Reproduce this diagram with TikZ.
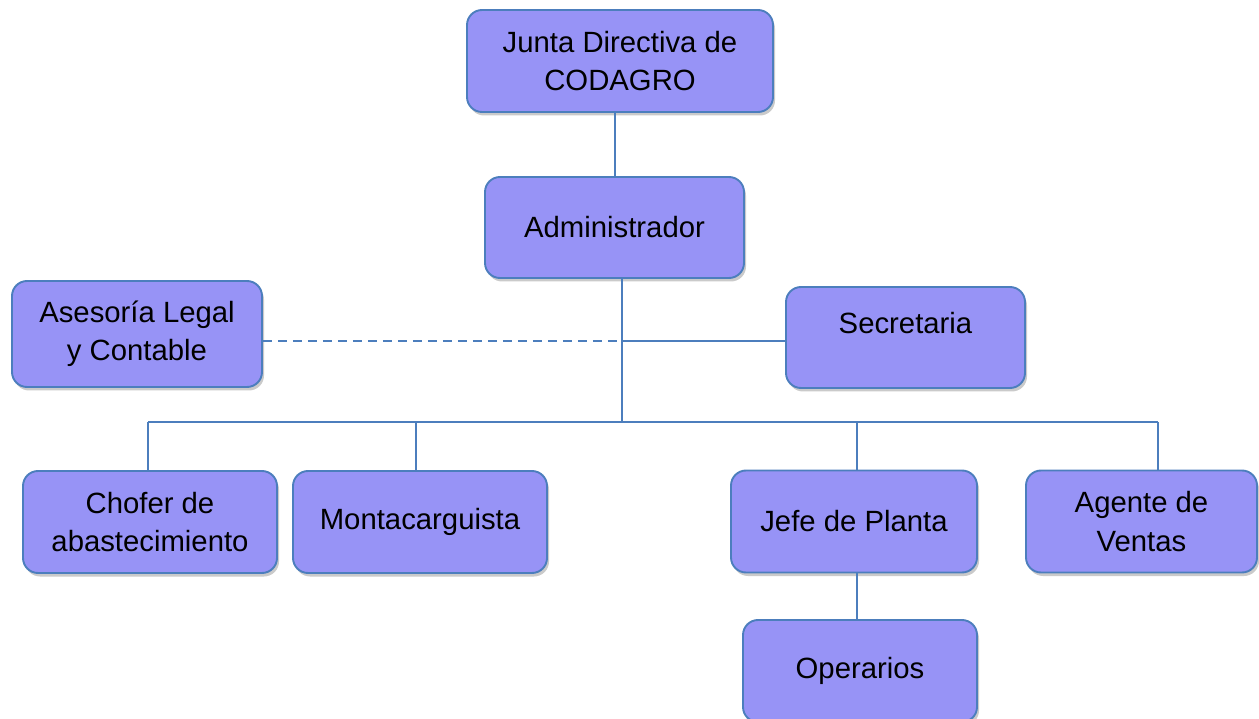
\documentclass[tikz,border=0pt]{standalone}
\usepackage{fontspec}
\setmainfont{Liberation Sans}
\usetikzlibrary{shadows}
\definecolor{boxfill}{HTML}{9793F6}
\definecolor{boxline}{HTML}{4C7EBD}
\tikzset{
  orgbox/.style={draw=boxline, line width=1.9pt, fill=boxfill, rounded corners=15pt,
    align=center, inner sep=0pt, font=\fontsize{29.3}{38.5}\selectfont,
    drop shadow={shadow xshift=2pt, shadow yshift=-3.5pt, opacity=0.35, fill=black!60}},
  link/.style={draw=boxline, line width=2pt},
  dlink/.style={link, dash pattern=on 9pt off 6pt}
}
\begin{document}
\begin{tikzpicture}[x=1pt,y=-1pt]
\useasboundingbox (0,0) rectangle (1259,719);
\node[orgbox, minimum width=306pt, minimum height=102pt] (junta) at (620,61) {Junta Directiva de\\CODAGRO};
\node[orgbox, minimum width=259pt, minimum height=101pt] (admin) at (614.5,227.5) {Administrador};
\node[orgbox, minimum width=250pt, minimum height=106pt] (asesoria) at (137,334) {Asesoría Legal\\y Contable};
\node[orgbox, minimum width=239pt, minimum height=101pt] (secretaria) at (905.5,337.5) {Secretaria\\[-10pt]\phantom{S}};
\node[orgbox, minimum width=254pt, minimum height=102pt] (chofer) at (150,522) {Chofer de\\abastecimiento};
\node[orgbox, minimum width=254pt, minimum height=102pt] (monta) at (420,522) {Montacarguista};
\node[orgbox, minimum width=246pt, minimum height=102pt] (jefe) at (854,521.5) {Jefe de Planta};
\node[orgbox, minimum width=231pt, minimum height=102pt] (agente) at (1141.5,521.5) {Agente de\\Ventas};
\node[orgbox, minimum width=234pt, minimum height=102pt] (operarios) at (860,671) {Operarios};
\coordinate (hub) at (622,422);
\coordinate (mid) at (622,341);
\coordinate (b1) at (148,422);
\coordinate (b2) at (416,422);
\coordinate (b3) at (857,422);
\coordinate (b4) at (1158,422);
\draw[link] (admin.north) -- (admin.north |- junta.south);
\draw[link] (hub |- admin.south) -- (hub);
\draw[dlink] (asesoria.east |- mid) -- (mid);
\draw[link] (mid) -- (mid -| secretaria.west);
\draw[link] (b1) -- (b4);
\draw[link] (b1) -- (b1 |- chofer.north);
\draw[link] (b2) -- (b2 |- monta.north);
\draw[link] (b3) -- (b3 |- jefe.north);
\draw[link] (b4) -- (b4 |- agente.north);
\draw[link] (b3 |- jefe.south) -- (b3 |- operarios.north);
\end{tikzpicture}
\end{document}
